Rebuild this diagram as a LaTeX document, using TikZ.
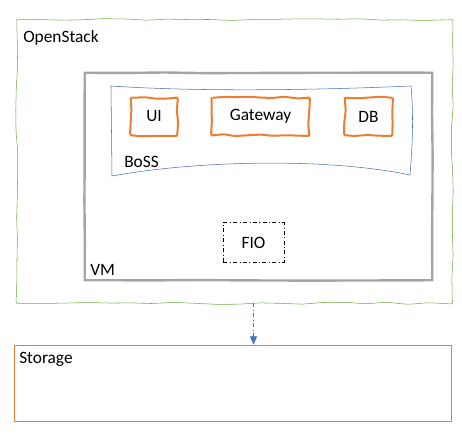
\documentclass[tikz,border=0pt]{standalone}
\usepackage{fontspec}
\setmainfont{Carlito}
\usetikzlibrary{positioning, arrows, decorations.pathmorphing}
\definecolor{osgreen}{HTML}{70AD47}
\definecolor{vmgray}{HTML}{A5A5A5}
\definecolor{bossblue}{HTML}{4472C4}
\definecolor{svcorange}{HTML}{ED7D31}

\begin{document}
\begin{tikzpicture}
		[x=0.75pt,y=-0.75pt,font=\fontsize{13}{15}\selectfont,
		rough/.style={decorate,rounded corners=1pt,decoration={random steps,segment length=#1,amplitude=0.8pt}},
		box/.style={rectangle,minimum height=27.75pt},
		lbl/.style={anchor=base west,inner sep=0pt}]
		\pgfmathsetseed{7}
		\useasboundingbox (0,0) rectangle (462,436);
		\node[rectangle,minimum width=326.25pt,minimum height=212.25pt] (os) at (234.5, 161.5) {};
		\node[rectangle,minimum width=260.25pt,minimum height=155.25pt] (vm) at (258.5, 176.5) {};
		\node[box,minimum width=34.5pt] (ui) at (154, 116.5) {UI};
		\node[box,minimum width=72.75pt] (gw) at (260.5, 116.5) {Gateway};
		\node[box,minimum width=35.25pt] (db) at (368.5, 116.5) {DB};
		\node[rectangle,draw,dash dot,minimum width=45.75pt,minimum height=30pt] (fio) at (253.5, 242.5) {FIO};
		\node[rectangle,draw=svcorange,minimum width=327.75pt,minimum height=57pt] (st) at (232.5, 383) {};
		
		% hand drawn borders
		\draw[osgreen,rough=16pt] (os.north west) -- (os.north east) -- (os.south east) -- (os.south west) -- cycle;
		\draw[vmgray,line width=1.8pt,decorate,decoration={random steps,segment length=30pt,amplitude=0.3pt}] (vm.north west) -- (vm.north east) -- (vm.south east) -- (vm.south west) -- cycle;
		\draw[bossblue] (111,86) .. controls (200,92) and (320,90) .. (411,86)
		.. controls (414,120) and (412,150) .. (410,175)
		.. controls (330,158) and (200,160) .. (112,176) -- cycle;
		\foreach \s in {ui,gw,db}
		\draw[svcorange,line width=1.5pt,rough=9pt] (\s.north west) -- (\s.north east) -- (\s.south east) -- (\s.south west) -- cycle;
		
		\node[lbl] (oslbl) at (23, 42) {OpenStack};
		\node[lbl] (vmlbl) at (90, 275) {VM};
		\node[lbl] (bosslbl) at (124, 167) {BoSS};
		\node[lbl] (stlbl) at (19, 363) {Storage};
		
		\path[->,>=triangle 45,bossblue,dash dot] (fio |- os.south) edge (fio |- st.north);
		
	\end{tikzpicture}
\end{document}
